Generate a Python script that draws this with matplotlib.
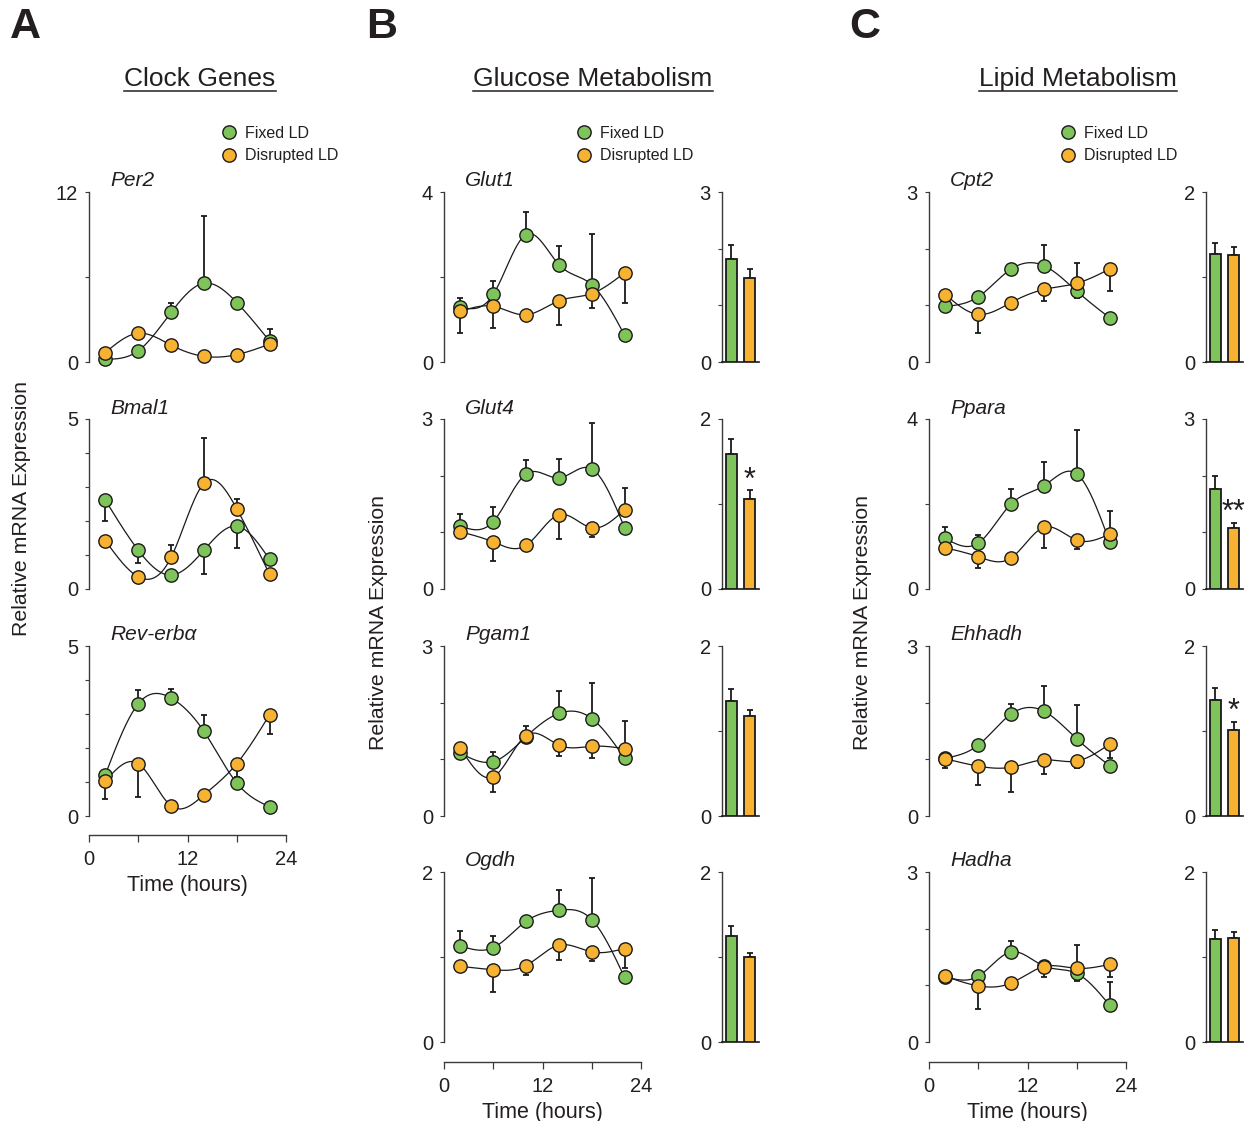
import numpy as np
import matplotlib
matplotlib.use("Agg")
import matplotlib.pyplot as plt
from matplotlib.lines import Line2D

plt.rcParams['font.family'] = ['Liberation Sans', 'DejaVu Sans']

# ---- data ----
hours = [2, 6, 10, 14, 18, 22]
# error values: positive = bar drawn upward, negative = drawn downward

per2_fixed = [0.19, 0.79, 3.5, 5.56, 4.2, 1.48]
per2_fixed_err = [0, 0, 0.67, 4.75, 0, 0.86]
per2_disr = [0.67, 2.03, 1.19, 0.4, 0.52, 1.26]
per2_disr_err = [0, 0, 0, 0, 0, 0]

bmal1_fixed = [2.61, 1.14, 0.41, 1.14, 1.85, 0.87]
bmal1_fixed_err = [-0.6, -0.38, 0, -0.7, -0.65, 0]
bmal1_disr = [1.42, 0.36, 0.93, 3.11, 2.36, 0.43]
bmal1_disr_err = [0, 0, 0.35, 1.34, 0.3, 0]

reverba_fixed = [1.22, 3.3, 3.47, 2.49, 0.97, 0.27]
reverba_fixed_err = [0, 0.4, 0.27, 0.47, 0, 0]
reverba_disr = [1.03, 1.54, 0.3, 0.62, 1.54, 2.98]
reverba_disr_err = [-0.52, -0.98, 0, 0, -0.4, -0.58]

glut1_fixed = [1.29, 1.59, 3.0, 2.29, 1.82, 0.63]
glut1_fixed_err = [0.22, 0.31, 0.53, 0.45, 1.19, 0]
glut1_disr = [1.19, 1.31, 1.11, 1.44, 1.61, 2.1]
glut1_disr_err = [-0.51, -0.51, 0, -0.56, -0.35, -0.72]
glut1_bar = [1.81, 1.49]
glut1_bar_err = [0.25, 0.16]

glut4_fixed = [1.11, 1.19, 2.03, 1.96, 2.12, 1.08]
glut4_fixed_err = [0.22, 0.25, 0.25, 0.33, 0.81, 0]
glut4_disr = [1.01, 0.83, 0.77, 1.31, 1.08, 1.4]
glut4_disr_err = [0, -0.34, 0, -0.42, -0.17, 0.38]
glut4_bar = [1.59, 1.06]
glut4_bar_err = [0.18, 0.10]

pgam1_fixed = [1.11, 0.96, 1.4, 1.81, 1.72, 1.02]
pgam1_fixed_err = [0, 0.17, 0.18, 0.39, 0.63, 0]
pgam1_disr = [1.2, 0.69, 1.42, 1.25, 1.23, 1.19]
pgam1_disr_err = [0, -0.27, 0, -0.19, -0.2, 0.48]
pgam1_bar = [1.35, 1.18]
pgam1_bar_err = [0.14, 0.07]

ogdh_fixed = [1.13, 1.11, 1.42, 1.55, 1.44, 0.76]
ogdh_fixed_err = [0.18, 0.14, 0, 0.24, 0.49, 0]
ogdh_disr = [0.89, 0.85, 0.9, 1.14, 1.06, 1.1]
ogdh_disr_err = [0, -0.26, -0.11, -0.18, -0.11, -0.23]
ogdh_bar = [1.25, 1.0]
ogdh_bar_err = [0.11, 0.05]

cpt2_fixed = [0.98, 1.15, 1.64, 1.7, 1.25, 0.78]
cpt2_fixed_err = [0, 0, 0, 0.36, -0.12, 0]
cpt2_disr = [1.19, 0.84, 1.05, 1.28, 1.39, 1.64]
cpt2_disr_err = [0, -0.32, 0, -0.2, 0.35, -0.38]
cpt2_bar = [1.27, 1.26]
cpt2_bar_err = [0.13, 0.09]

ppara_fixed = [1.19, 1.08, 2.0, 2.43, 2.71, 1.11]
ppara_fixed_err = [0.27, 0.19, 0.36, 0.55, 1.04, 0]
ppara_disr = [0.97, 0.76, 0.73, 1.45, 1.15, 1.29]
ppara_disr_err = [0, -0.27, 0, -0.48, -0.21, 0.54]
ppara_bar = [1.76, 1.08]
ppara_bar_err = [0.23, 0.09]

ehhadh_fixed = [1.02, 1.25, 1.8, 1.85, 1.36, 0.89]
ehhadh_fixed_err = [0.09, 0, 0.18, 0.44, 0.6, 0]
ehhadh_disr = [1.01, 0.88, 0.86, 0.99, 0.97, 1.27]
ehhadh_disr_err = [-0.17, -0.33, -0.44, -0.24, -0.13, -0.25]
ehhadh_bar = [1.37, 1.01]
ehhadh_bar_err = [0.14, 0.10]

hadha_fixed = [1.15, 1.16, 1.59, 1.34, 1.21, 0.65]
hadha_fixed_err = [0, 0, 0.19, 0, -0.13, 0.41]
hadha_disr = [1.16, 0.99, 1.04, 1.33, 1.3, 1.37]
hadha_disr_err = [0, -0.41, 0, -0.18, 0.41, -0.22]
hadha_bar = [1.21, 1.22]
hadha_bar_err = [0.11, 0.08]

# ---- styling / layout ----
W, H = 1248, 1121
GREEN = '#7fc45b'
ORANGE = '#f7b231'
INK = '#231f20'
row_top = [192, 419, 646, 872]
row_h = 170
line_x = [89, 444, 929]
line_w = 197
bar_x = [None, 722, 1206]
bar_w = 37


def rect(x, y, w, h):
    return [x / W, 1 - (y + h) / H, w / W, h / H]


def spline(x, y, n=200):
    # natural cubic spline for the smooth connecting curve
    x = np.asarray(x, float)
    y = np.asarray(y, float)
    k = len(x)
    h = np.diff(x)
    A = np.zeros((k, k))
    r = np.zeros(k)
    A[0, 0] = A[-1, -1] = 1
    for i in range(1, k - 1):
        A[i, i - 1] = h[i - 1]
        A[i, i] = 2 * (h[i - 1] + h[i])
        A[i, i + 1] = h[i]
        r[i] = 3 * ((y[i + 1] - y[i]) / h[i] - (y[i] - y[i - 1]) / h[i - 1])
    c = np.linalg.solve(A, r)
    b = (y[1:] - y[:-1]) / h - h * (2 * c[:-1] + c[1:]) / 3
    d = (c[1:] - c[:-1]) / (3 * h)
    xs = np.linspace(x[0], x[-1], n)
    idx = np.clip(np.searchsorted(x, xs) - 1, 0, k - 2)
    dx = xs - x[idx]
    return xs, y[idx] + b[idx] * dx + c[idx] * dx ** 2 + d[idx] * dx ** 3


def yaxis_style(ax, ymax):
    for s in ['top', 'right', 'bottom']:
        ax.spines[s].set_visible(False)
    ax.spines['left'].set_bounds(0, ymax)
    ax.spines['left'].set_color('#3a3a3a')
    ax.spines['left'].set_linewidth(1.0)
    ax.set_ylim(0, ymax)
    ax.set_yticks([0, ymax])
    ax.set_yticklabels(['0', str(ymax)])
    step = ymax / 2 if ymax in (4, 12) else 1
    ax.set_yticks(np.arange(step, ymax, step), minor=True)
    ax.tick_params(axis='y', which='both', direction='out', length=3,
                   width=0.8, color='#3a3a3a', labelsize=14.5, labelcolor=INK, pad=5)
    ax.patch.set_visible(False)


def line_panel(col, row, name, ymax, fixed, fixed_err, disr, disr_err):
    ax = fig.add_axes(rect(line_x[col], row_top[row], line_w, row_h))
    ax.set_xlim(0, 24)
    ax.set_xticks([])
    yaxis_style(ax, ymax)
    handles = []
    for vals, errs, color in [(fixed, fixed_err, GREEN), (disr, disr_err, ORANGE)]:
        xs, ys = spline(hours, vals)
        ax.plot(xs, ys, color='#1a1a1a', lw=0.9, zorder=2, clip_on=False)
        e = np.asarray(errs, float)
        lo = np.where(e < 0, -e, 0)
        hi = np.where(e > 0, e, 0)
        keep = e != 0
        ax.errorbar(np.asarray(hours)[keep], np.asarray(vals)[keep],
                    yerr=[lo[keep], hi[keep]], fmt='none', ecolor='#1a1a1a',
                    elinewidth=1.3, capsize=2.2, capthick=1.3, zorder=3, clip_on=False)
        h, = ax.plot(hours, vals, 'o', ms=9.6, mfc=color, mec='#1a1a1a',
                     mew=1.0, zorder=4, clip_on=False)
        handles.append(h)
    fig.text((line_x[col] + 21) / W, 1 - (row_top[row] - 11) / H, name,
             style='italic', fontsize=15, color=INK, va='center', ha='left')
    return ax, handles


def bar_panel(col, row, ymax, vals, errs, star=None):
    ax = fig.add_axes(rect(bar_x[col], row_top[row], bar_w, row_h))
    yaxis_style(ax, ymax)
    ax.spines['bottom'].set_visible(True)
    ax.spines['bottom'].set_color('#1a1a1a')
    ax.spines['bottom'].set_linewidth(1.2)
    ax.set_xlim(0, 2)
    ax.set_xticks([])
    pos = [0.5, 1.5]
    ax.bar(pos, vals, width=0.6, color=[GREEN, ORANGE], edgecolor='#1a1a1a',
           linewidth=1.3, zorder=3)
    ax.errorbar(pos, vals, yerr=[[0, 0], errs], fmt='none', ecolor='#1a1a1a',
                elinewidth=1.3, capsize=2.0, capthick=1.3, zorder=2)
    if star:
        ax.annotate(star, (pos[1], vals[1] + errs[1]), xytext=(0, -4),
                    textcoords='offset points', ha='center', va='bottom',
                    fontsize=22, color=INK, annotation_clip=False)
    return ax


def time_axis(col, y):
    ax = fig.add_axes(rect(line_x[col], y - 1, line_w, 1))
    ax.set_xlim(0, 24)
    ax.set_yticks([])
    for s in ['top', 'right', 'left']:
        ax.spines[s].set_visible(False)
    ax.spines['bottom'].set_color('#3a3a3a')
    ax.spines['bottom'].set_linewidth(1.0)
    ax.set_xticks([0, 6, 12, 18, 24])
    ax.set_xticklabels(['0', '', '12', '', '24'])
    ax.tick_params(axis='x', direction='out', length=5, width=0.9,
                   color='#3a3a3a', labelsize=14.5, labelcolor=INK, pad=6)
    ax.set_xlabel('Time (hours)', fontsize=15.5, color=INK, labelpad=4)
    ax.patch.set_visible(False)


fig = plt.figure(figsize=(W / 100, H / 100), dpi=100)

# column A: clock genes
ax0, leg_handles = line_panel(0, 0, 'Per2', 12, per2_fixed, per2_fixed_err, per2_disr, per2_disr_err)
line_panel(0, 1, 'Bmal1', 5, bmal1_fixed, bmal1_fixed_err, bmal1_disr, bmal1_disr_err)
line_panel(0, 2, 'Rev-erbα', 5, reverba_fixed, reverba_fixed_err, reverba_disr, reverba_disr_err)
time_axis(0, 835)

# column B: glucose metabolism
line_panel(1, 0, 'Glut1', 4, glut1_fixed, glut1_fixed_err, glut1_disr, glut1_disr_err)
bar_panel(1, 0, 3, glut1_bar, glut1_bar_err)
line_panel(1, 1, 'Glut4', 3, glut4_fixed, glut4_fixed_err, glut4_disr, glut4_disr_err)
bar_panel(1, 1, 2, glut4_bar, glut4_bar_err, '*')
line_panel(1, 2, 'Pgam1', 3, pgam1_fixed, pgam1_fixed_err, pgam1_disr, pgam1_disr_err)
bar_panel(1, 2, 2, pgam1_bar, pgam1_bar_err)
line_panel(1, 3, 'Ogdh', 2, ogdh_fixed, ogdh_fixed_err, ogdh_disr, ogdh_disr_err)
bar_panel(1, 3, 2, ogdh_bar, ogdh_bar_err)
time_axis(1, 1062)

# column C: lipid metabolism
line_panel(2, 0, 'Cpt2', 3, cpt2_fixed, cpt2_fixed_err, cpt2_disr, cpt2_disr_err)
bar_panel(2, 0, 2, cpt2_bar, cpt2_bar_err)
line_panel(2, 1, 'Ppara', 4, ppara_fixed, ppara_fixed_err, ppara_disr, ppara_disr_err)
bar_panel(2, 1, 3, ppara_bar, ppara_bar_err, '**')
line_panel(2, 2, 'Ehhadh', 3, ehhadh_fixed, ehhadh_fixed_err, ehhadh_disr, ehhadh_disr_err)
bar_panel(2, 2, 2, ehhadh_bar, ehhadh_bar_err, '*')
line_panel(2, 3, 'Hadha', 3, hadha_fixed, hadha_fixed_err, hadha_disr, hadha_disr_err)
bar_panel(2, 3, 2, hadha_bar, hadha_bar_err)
time_axis(2, 1062)

# legends
for lx in [221, 576, 1060]:
    fig.legend(leg_handles, ['Fixed LD', 'Disrupted LD'], loc='upper left',
               bbox_to_anchor=(lx / W, 1 - 126 / H), frameon=False, fontsize=11.5,
               handlelength=1.0, handletextpad=0.5, labelspacing=0.45,
               borderpad=0, borderaxespad=0, labelcolor=INK)

# panel letters, titles, y labels
for lx, letter in [(10, 'A'), (366, 'B'), (849, 'C')]:
    fig.text(lx / W, 1 - 27 / H, letter, fontsize=31, fontweight='bold',
             color=INK, ha='left', va='center')

titles = []
for cx, title in [(200, 'Clock Genes'), (593, 'Glucose Metabolism'), (1078, 'Lipid Metabolism')]:
    titles.append(fig.text(cx / W, 1 - 86 / H, title, fontsize=19, color=INK,
                           ha='center', va='baseline'))

for lx, ly in [(22, 509), (378, 622), (862, 622)]:
    fig.text(lx / W, 1 - ly / H, 'Relative mRNA Expression', fontsize=15.3,
             color=INK, rotation=90, ha='center', va='center')

# underline the column titles
fig.canvas.draw()
renderer = fig.canvas.get_renderer()
for t in titles:
    bb = t.get_window_extent(renderer).transformed(fig.transFigure.inverted())
    y_ul = 1 - 90.5 / H
    fig.add_artist(Line2D([bb.x0, bb.x1], [y_ul, y_ul], color=INK, lw=1.1,
                          transform=fig.transFigure))

fig.savefig('out.png', dpi=100)
